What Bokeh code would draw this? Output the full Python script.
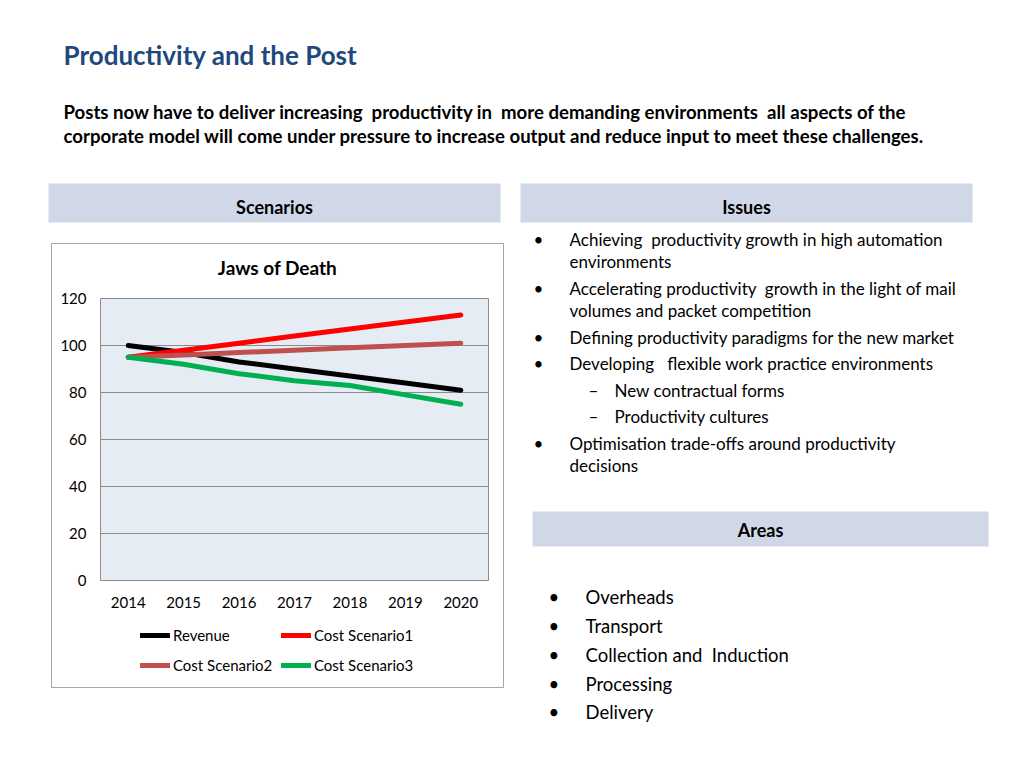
from bokeh.plotting import figure
from bokeh.models import Range1d, Legend, LegendItem
from bokeh.core.properties import value
from bokeh.embed import file_html
from bokeh.resources import INLINE

# ---------------- data ----------------
years = [2014, 2015, 2016, 2017, 2018, 2019, 2020]
revenue = [100, 97, 93, 90, 87, 84, 81]
cost_scenario1 = [95, 98, 101, 104, 107, 110, 113]
cost_scenario2 = [95, 96, 97, 98, 99, 100, 101]
cost_scenario3 = [95, 92, 88, 85, 83, 79, 75]
y_ticks = [0, 20, 40, 60, 80, 100, 120]

series_names = ["Revenue", "Cost Scenario1", "Cost Scenario2", "Cost Scenario3"]
series_values = [revenue, cost_scenario1, cost_scenario2, cost_scenario3]
series_colors = ["#000000", "#FF0000", "#C0504D", "#00B050"]

NB = "\u00a0"  # keeps the doubled spaces of the original text visible
slide_title = "Productivity and the Post"
slide_intro = [
    f"Posts now have to deliver increasing {NB}productivity in {NB}more demanding environments {NB}all aspects of the",
    "corporate model will come under pressure to increase output and reduce input to meet these challenges.",
]
chart_title = "Jaws of Death"
section_headers = ["Scenarios", "Issues", "Areas"]
issues = [
    ("•", f"Achieving {NB}productivity growth in high automation"),
    ("", "environments"),
    ("•", f"Accelerating productivity {NB}growth in the light of mail"),
    ("", "volumes and packet competition"),
    ("•", "Defining productivity paradigms for the new market"),
    ("•", f"Developing {NB}{NB}flexible work practice environments"),
    ("–", "New contractual forms"),
    ("–", "Productivity cultures"),
    ("•", "Optimisation trade-offs around productivity"),
    ("", "decisions"),
]
areas = ["Overheads", "Transport", f"Collection and {NB}Induction", "Processing", "Delivery"]

FONT = "Lato"
TITLE_BLUE = "#1F497D"
HEADER_FILL = "#D0D8E8"
GRID = "#8C8C8C"

# page geometry (pixels from the page's top-left corner)
PAGE_W, PAGE_H = 1008, 752
FRAME_L, FRAME_R, FRAME_T, FRAME_B = 100, 488, 298, 580

# the page itself is the plot frame, in pixel coordinates (y downwards)
p = figure(width=PAGE_W, height=PAGE_H, x_range=Range1d(0, PAGE_W), y_range=Range1d(PAGE_H, 0),
           x_axis_location=None, y_axis_location=None, toolbar_location=None,
           output_backend="svg", min_border=0, outline_line_color=None,
           background_fill_color="white", border_fill_color="white")
p.grid.visible = False

# chart scales: years and values mapped onto the chart's plot area
x_lo, x_hi = years[0] - 0.5, years[-1] + 0.5
y_lo, y_hi = y_ticks[0], y_ticks[-1]
ppx = (FRAME_R - FRAME_L) / (x_hi - x_lo)
ppy = (FRAME_B - FRAME_T) / (y_hi - y_lo)
p.extra_x_ranges = {"yr": Range1d(x_lo - FRAME_L / ppx, x_hi + (PAGE_W - FRAME_R) / ppx)}
p.extra_y_ranges = {"val": Range1d(y_lo - (PAGE_H - FRAME_B) / ppy, y_hi + FRAME_T / ppy)}


def text(xs, ys, texts, size, bold=False, color="#000000", align="left", **kw):
    p.text(x=xs, y=ys, text=texts, text_font=value(FONT), text_font_size=value(size),
           text_font_style="bold" if bold else "normal", text_color=color,
           text_align=align, text_baseline="middle", **kw)


# ---------------- slide furniture ----------------
p.quad(left=[48, 520, 532], right=[500, 972, 988], top=[183, 183, 511],
       bottom=[222, 222, 546], fill_color=HEADER_FILL, line_color=None)
p.quad(left=[51], right=[503], top=[243], bottom=[687], fill_color="white",
       line_color="#A6A6A6", line_width=1)

text([63], [54], [slide_title], "26px", bold=True, color=TITLE_BLUE)
text([63, 63], [111, 135], slide_intro, "18.6px", bold=True)
text([274, 746, 760], [206, 206, 529], section_headers, "18px", bold=True, align="center")

issue_y = [239, 261, 288, 310, 337, 363, 390, 416, 443, 465]
bul_x, bul_y, bul_t, txt_x = [], [], [], []
for (mark, txt), yy in zip(issues, issue_y):
    if mark == "•":
        bul_x.append(533); bul_y.append(yy); bul_t.append(mark); txt_x.append(569)
    elif mark == "–":
        bul_x.append(588); bul_y.append(yy); bul_t.append(mark); txt_x.append(614)
    else:
        txt_x.append(569)
text(bul_x, bul_y, bul_t, "17px")
text(txt_x, issue_y, [t for _, t in issues], "17px")

area_y = [596, 625, 654, 683, 711]
text([548] * len(areas), area_y, ["•"] * len(areas), "18.5px")
text([585] * len(areas), area_y, areas, "18.5px")

# ---------------- chart ----------------
text([277], [267], [chart_title], "19px", bold=True, align="center")
p.quad(left=[x_lo], right=[x_hi], bottom=[y_lo], top=[y_hi], fill_color="#E6ECF4",
       line_color=None, x_range_name="yr", y_range_name="val")
p.segment(x0=[x_lo] * len(y_ticks), x1=[x_hi] * len(y_ticks), y0=y_ticks, y1=y_ticks,
          line_color=GRID, line_width=1, x_range_name="yr", y_range_name="val")
p.segment(x0=[x_lo, x_hi], x1=[x_lo, x_hi], y0=[y_lo, y_lo], y1=[y_hi, y_hi],
          line_color=GRID, line_width=1, x_range_name="yr", y_range_name="val")
# tick labels
text([FRAME_L - 14] * len(y_ticks), y_ticks, [str(t) for t in y_ticks], "15px",
     align="right", y_range_name="val")
text(years, [FRAME_B + 22] * len(years), [str(y) for y in years], "15px",
     align="center", x_range_name="yr")

items = []
for name, vals, col in zip(series_names, series_values, series_colors):
    r = p.line(x=years, y=vals, line_color=col, line_width=5, line_cap="round",
               x_range_name="yr", y_range_name="val")
    items.append(LegendItem(label=name, renderers=[r]))

for pair, row_y in ((items[:2], 635), (items[2:], 665)):
    lg = Legend(items=pair, orientation="horizontal",
                location=(140, PAGE_H - (row_y + 10)),
                border_line_color=None, background_fill_alpha=0, glyph_width=30,
                glyph_height=20, label_height=20, label_standoff=3, label_width=100,
                label_text_font=FONT, label_text_font_size="15px",
                label_text_color="#000000", spacing=8, padding=0, margin=0)
    p.add_layout(lg, "center")

open("out.html", "w").write(file_html(p, INLINE))
